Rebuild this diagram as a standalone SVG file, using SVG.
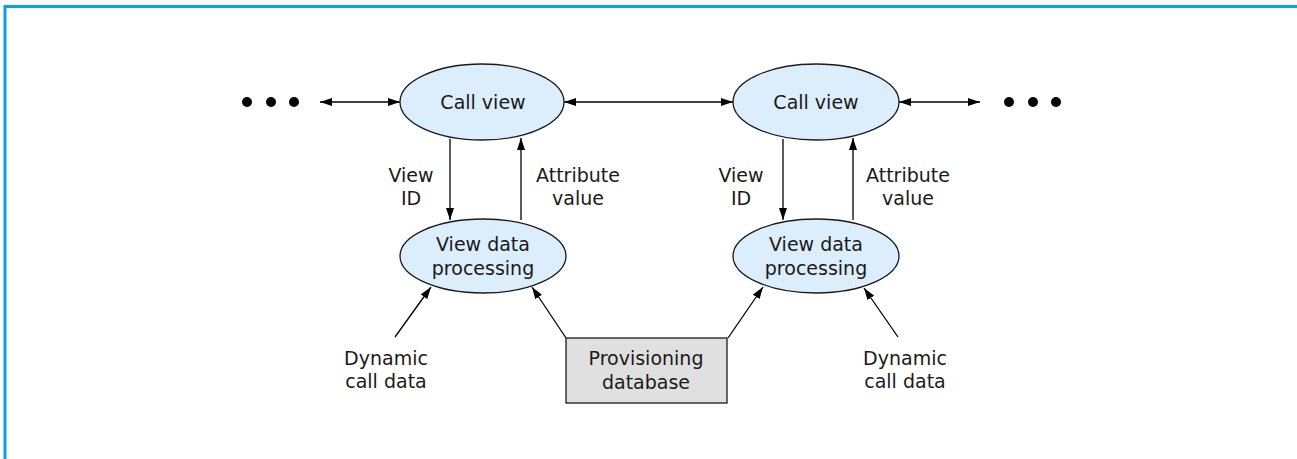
<svg xmlns="http://www.w3.org/2000/svg" width="1297" height="459" viewBox="0 0 1297 459">
<style>
text{font-family:"DejaVu Sans","Open Sans",sans-serif;font-size:19px;fill:#1a1a1a;text-anchor:middle}
.ell{fill:#dcedfb;stroke:#1a1a1a;stroke-width:1.3}
.box{fill:#e0e0e0;stroke:#1a1a1a;stroke-width:1.3}
.c{stroke:#000;stroke-width:1.3;fill:none}
.dot{fill:#000}
</style>
<defs>
<marker id="ah" viewBox="0 0 12 8" refX="12" refY="4" markerWidth="12" markerHeight="8" markerUnits="userSpaceOnUse" orient="auto-start-reverse">
<path d="M0,0 L12,4 L0,8 z" fill="#000"/>
</marker>
</defs>
<rect width="1297" height="459" fill="#fff"/>
<path d="M5,459 V6.5 H1297" fill="none" stroke="#0b9fe3" stroke-width="3"/>
<g id="connectors">
<line class="c" x1="320" y1="102" x2="400" y2="102" marker-start="url(#ah)" marker-end="url(#ah)"/>
<line class="c" x1="564" y1="102" x2="733" y2="102" marker-start="url(#ah)" marker-end="url(#ah)"/>
<line class="c" x1="899" y1="102" x2="980" y2="102" marker-start="url(#ah)" marker-end="url(#ah)"/>
<line class="c" x1="450" y1="139" x2="450" y2="220" marker-end="url(#ah)"/>
<line class="c" x1="521" y1="220" x2="521" y2="138" marker-end="url(#ah)"/>
<line class="c" x1="783" y1="139" x2="783" y2="220" marker-end="url(#ah)"/>
<line class="c" x1="853" y1="220" x2="853" y2="138" marker-end="url(#ah)"/>
<line class="c" x1="395" y1="337" x2="431" y2="287" marker-end="url(#ah)"/>
<line class="c" x1="566" y1="338" x2="532" y2="287" marker-end="url(#ah)"/>
<line class="c" x1="728" y1="338" x2="763" y2="287" marker-end="url(#ah)"/>
<line class="c" x1="898" y1="337" x2="864" y2="288" marker-end="url(#ah)"/>
</g>
<g id="dots-left">
<circle class="dot" cx="247" cy="102" r="5"/>
<circle class="dot" cx="271" cy="102" r="5"/>
<circle class="dot" cx="294" cy="102" r="5"/>
</g>
<g id="dots-right">
<circle class="dot" cx="1009" cy="102" r="5"/>
<circle class="dot" cx="1033" cy="102" r="5"/>
<circle class="dot" cx="1056" cy="102" r="5"/>
</g>
<g id="callview1">
<ellipse class="ell" cx="482" cy="102" rx="82" ry="38"/>
<text x="483" y="109">Call view</text>
</g>
<g id="callview2">
<ellipse class="ell" cx="816" cy="102" rx="83" ry="38"/>
<text x="816" y="109">Call view</text>
</g>
<g id="vdp1">
<ellipse class="ell" cx="483" cy="256" rx="83" ry="37"/>
<text x="483" y="251">View data</text>
<text x="483" y="275">processing</text>
</g>
<g id="vdp2">
<ellipse class="ell" cx="816" cy="256" rx="83" ry="37"/>
<text x="816" y="251">View data</text>
<text x="816" y="275">processing</text>
</g>
<g id="provdb">
<rect class="box" x="566" y="338" width="161" height="65"/>
<text x="646" y="365">Provisioning</text>
<text x="646" y="389">database</text>
</g>
<g id="labels">
<text x="411" y="182">View</text>
<text x="411" y="205">ID</text>
<text x="578" y="182">Attribute</text>
<text x="578" y="205">value</text>
<text x="741" y="182">View</text>
<text x="741" y="205">ID</text>
<text x="908" y="182">Attribute</text>
<text x="908" y="205">value</text>
<text x="386" y="365">Dynamic</text>
<text x="386" y="388">call data</text>
<text x="905" y="365">Dynamic</text>
<text x="905" y="388">call data</text>
</g>
</svg>
